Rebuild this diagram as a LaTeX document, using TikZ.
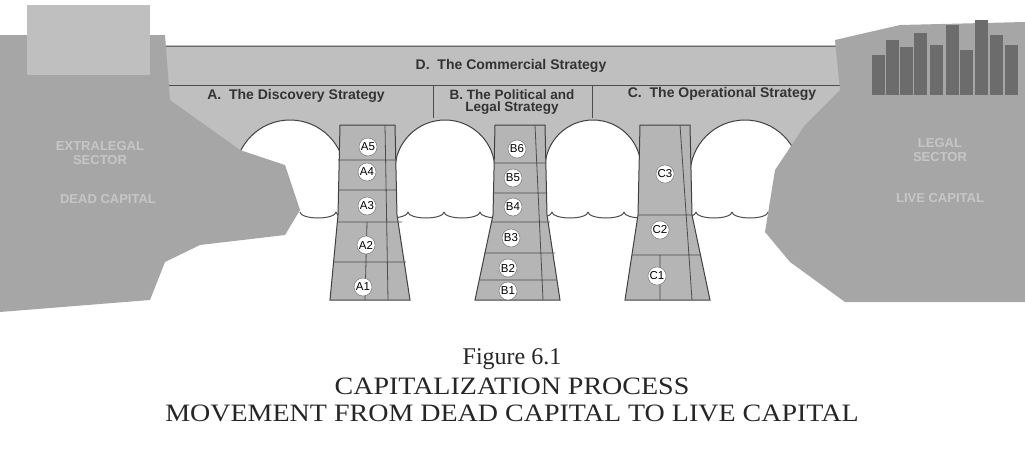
\documentclass[tikz,border=0pt]{standalone}
\usepackage{fontspec}
\setmainfont{Liberation Serif}
\setsansfont{Liberation Sans}
\usepackage{tikz}

\begin{document}
\begin{tikzpicture}[x=1pt,y=-1pt]
    % Define styles
    \tikzset{
        land/.style={fill=gray!70, draw=none},
        stone/.style={fill=gray!50, draw=black!75, line width=1pt},
        pier/.style={fill=gray!58, draw=black!75, line width=1pt},
        opening/.style={fill=white, draw=black!75, line width=1pt},
        block/.style={draw=black!70, line width=0.8pt},
        stage/.style={circle, fill=white, draw=black!60, inner sep=0.5pt, minimum size=18pt, font=\sffamily\fontsize{11.5}{11}\selectfont},
        strategy/.style={font=\sffamily\bfseries\fontsize{14}{14}\selectfont, text=black!80, align=center},
        sector/.style={font=\sffamily\bfseries\fontsize{13}{14}\selectfont, text=gray!45, align=center},
        caption/.style={font=\fontsize{25}{26}\selectfont, text=black!85, inner sep=0pt}
    }
    \useasboundingbox (0,0) rectangle (1025,461);

    % Deck and spandrels
    \path[stone] (163,46) -- (858,46) -- (858,120) -- (800,165) -- (235,165) -- (163,120) -- cycle;
    \draw[block] (163,85) -- (858,85);
    \draw[block] (433,85) -- (433,118) (592,85) -- (592,118);

    % Arch openings
    \path[opening] (235,220) -- (235,175) arc (180:360:55) -- (345,220) -- cycle;
    \path[opening] (395,220) -- (395,170) arc (180:360:50) -- (495,220) -- cycle;
    \path[opening] (545,220) -- (545,168) arc (180:360:48) -- (641,220) -- cycle;
    \path[opening] (690,220) -- (690,175) arc (180:360:55) -- (800,220) -- cycle;
    \fill[white] (225,212) rectangle (810,330);

    % Water line
    \foreach \x in {300,336,...,760}
        \draw[black!70, line width=1pt] (\x,212) arc (180:0:18 and 6);

    % Left and right land
    \path[land] (0,35) -- (165,35) -- (170,100) -- (240,150) -- (285,165) -- (300,210) -- (285,235) -- (200,245) -- (165,262) -- (150,300) -- (0,312) -- cycle;
    \fill[gray!50] (27,5) rectangle (150,75);
    \path[land] (835,40) -- (900,25) -- (1025,22) -- (1025,302) -- (845,302) -- (790,262) -- (765,232) -- (775,170) -- (805,125) -- (840,90) -- cycle;
    \foreach \x/\h in {872/40,886/55,900/48,914/62,930/50,946/70,960/45,975/75,990/60,1005/50}
        \fill[gray!85!black] (\x,95) rectangle ++(13,-\h);

    % Piers
    \path[pier] (340,125) -- (395,125) -- (397,215) -- (410,300) -- (330,300) -- (338,215) -- cycle;
    \draw[block] (338,160) -- (397,160) (338,190) -- (397,190) (338,222) -- (402,222) (333,262) -- (406,262) (367,222) -- (365,300) (385,125) -- (388,300);
    \path[pier] (495,125) -- (545,125) -- (547,215) -- (560,300) -- (475,300) -- (493,215) -- cycle;
    \draw[block] (494,163) -- (546,163) (494,193) -- (546,193) (492,222) -- (550,222) (484,253) -- (555,253) (480,280) -- (557,280) (535,125) -- (543,300);
    \path[pier] (640,125) -- (690,125) -- (692,215) -- (710,300) -- (625,300) -- (638,215) -- cycle;
    \draw[block] (638,215) -- (692,215) (632,255) -- (700,255) (680,125) -- (692,300) (660,255) -- (660,300);

    % Stage markers
    \node[stage] (a5) at (368,147) {A5};
    \node[stage] (a4) at (367,172) {A4};
    \node[stage] (a3) at (367,206) {A3};
    \node[stage] (a2) at (366,245) {A2};
    \node[stage] (a1) at (363,287) {A1};
    \node[stage] (b6) at (517,149) {B6};
    \node[stage] (b5) at (513,178) {B5};
    \node[stage] (b4) at (513,207) {B4};
    \node[stage] (b3) at (511,238) {B3};
    \node[stage] (b2) at (508,268) {B2};
    \node[stage] (b1) at (508,291) {B1};
    \node[stage] (c3) at (665,174) {C3};
    \node[stage] (c2) at (660,230) {C2};
    \node[stage] (c1) at (657,276) {C1};

    % Strategy labels
    \node[strategy] (commercial) at (511,66) {D.\ \ The Commercial Strategy};
    \node[strategy] (discovery) at (296,96) {A.\ \ The Discovery Strategy};
    \node[strategy, font=\sffamily\bfseries\fontsize{13.5}{12}\selectfont] (political) at (512,102) {B. The Political and\\Legal Strategy};
    \node[strategy] (operational) at (722,94) {C.\ \ The Operational Strategy};

    % Sector labels
    \node[sector] (extralegal) at (100,153) {EXTRALEGAL\\SECTOR};
    \node[sector] (dead) at (108,199) {DEAD CAPITAL};
    \node[sector] (legal) at (940,150) {LEGAL\\SECTOR};
    \node[sector] (live) at (940,198) {LIVE CAPITAL};

    % Figure caption
    \node[caption, font=\fontsize{24}{26}\selectfont] (fignum) at (512,359) {Figure 6.1};
    \node[caption, xscale=1.12] (title) at (512,386) {CAPITALIZATION PROCESS};
    \node[caption, xscale=1.12] (subtitle) at (512,413) {MOVEMENT FROM DEAD CAPITAL TO LIVE CAPITAL};
\end{tikzpicture}
\end{document}
